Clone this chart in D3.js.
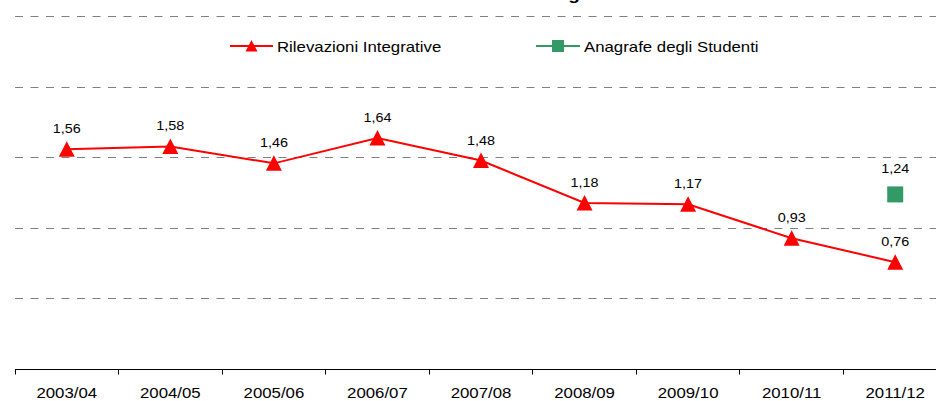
<!DOCTYPE html>
<html>
<head>
<meta charset="utf-8">
<script src="https://cdn.jsdelivr.net/npm/d3@7"></script>
<style>
  html, body { margin: 0; padding: 0; background: #fff; }
  svg { display: block; font-family: "Liberation Sans", Arial, sans-serif; }
</style>
</head>
<body>
<div id="chart"></div>
<script>
// dati
const categories = ["2003/04", "2004/05", "2005/06", "2006/07", "2007/08", "2008/09", "2009/10", "2010/11", "2011/12"];
const rilevazioni = [1.56, 1.58, 1.46, 1.64, 1.48, 1.18, 1.17, 0.93, 0.76];
const anagrafe = [null, null, null, null, null, null, null, null, 1.24];
const gridTicks = [0.5, 1, 1.5, 2, 2.5];
const seriesNames = ["Rilevazioni Integrative", "Anagrafe degli Studenti"];

// parametri
const W = 936, H = 401;
const red = "#ff0000", green = "#339966";
const stretch = 1.2; // il testo originale è un po' allargato
const fmt = v => d3.format(".2f")(v).replace(".", ",");

const svg = d3.select("#chart").append("svg")
  .attr("width", W).attr("height", H);

const x = d3.scaleBand().domain(categories).range([15, 947]);
const y = d3.scaleLinear().domain([0, 2.5]).range([369.5, 16.5]);
const cx = d => x(d) + x.bandwidth() / 2;
const crisp = v => Math.floor(v) + 0.5;

function stext(g, px, py, str, size, anchor, weight) {
  return g.append("text")
    .attr("transform", `translate(${px},${py}) scale(${stretch},1)`)
    .attr("text-anchor", anchor || "middle")
    .style("font-size", size + "px")
    .style("font-weight", weight || "normal")
    .attr("fill", "#000")
    .text(str);
}

function triangle(s) {
  const h = s / 2;
  return `M0,${-h}L${h},${h - 0.5}L${-h},${h - 0.5}Z`;
}

// titolo (tagliato in alto)
stext(svg, 574, 0, "g", 16, "middle", "bold");

// griglia
svg.append("g").selectAll("line")
  .data(gridTicks)
  .join("line")
  .attr("x1", 15).attr("x2", W)
  .attr("y1", d => crisp(y(d))).attr("y2", d => crisp(y(d)))
  .attr("stroke", "#808080")
  .attr("stroke-width", 1)
  .attr("stroke-dasharray", "8,7.5");

// asse x
const axisG = svg.append("g");
axisG.append("line")
  .attr("x1", 15).attr("x2", W)
  .attr("y1", crisp(y(0))).attr("y2", crisp(y(0)))
  .attr("stroke", "#000");
axisG.selectAll("line.tick")
  .data(categories)
  .join("line")
  .attr("class", "tick")
  .attr("x1", d => crisp(x(d))).attr("x2", d => crisp(x(d)))
  .attr("y1", crisp(y(0))).attr("y2", crisp(y(0)) + 5)
  .attr("stroke", "#000");
categories.forEach(c => stext(axisG, cx(c), 398, c, 14));

// serie rossa
const pts = categories.map((c, i) => ({c, v: rilevazioni[i]}));
svg.append("path")
  .datum(pts)
  .attr("fill", "none")
  .attr("stroke", red)
  .attr("stroke-width", 2)
  .attr("d", d3.line().x(d => cx(d.c)).y(d => y(d.v)));
svg.append("g").selectAll("path")
  .data(pts)
  .join("path")
  .attr("transform", d => `translate(${cx(d.c)},${y(d.v)})`)
  .attr("d", triangle(16))
  .attr("fill", red);
pts.forEach(d => stext(svg, cx(d.c), y(d.v) - 16, fmt(d.v), 12));

// serie verde
const gpts = categories.map((c, i) => ({c, v: anagrafe[i]})).filter(d => d.v != null);
svg.append("g").selectAll("rect")
  .data(gpts)
  .join("rect")
  .attr("x", d => cx(d.c) - 8).attr("y", d => y(d.v) - 8)
  .attr("width", 16).attr("height", 16)
  .attr("fill", green);
gpts.forEach(d => stext(svg, cx(d.c), y(d.v) - 21, fmt(d.v), 12));

// legenda
const leg = svg.append("g");
leg.append("line").attr("x1", 230).attr("x2", 273).attr("y1", 46).attr("y2", 46)
  .attr("stroke", red).attr("stroke-width", 2);
leg.append("path").attr("transform", "translate(251.5,46)").attr("d", triangle(12)).attr("fill", red);
stext(leg, 277, 52, seriesNames[0], 14, "start");

leg.append("line").attr("x1", 536).attr("x2", 580).attr("y1", 46).attr("y2", 46)
  .attr("stroke", green).attr("stroke-width", 2);
leg.append("rect").attr("x", 552).attr("y", 40).attr("width", 12).attr("height", 12).attr("fill", green);
stext(leg, 584, 52, seriesNames[1], 14, "start");
</script>
</body>
</html>
